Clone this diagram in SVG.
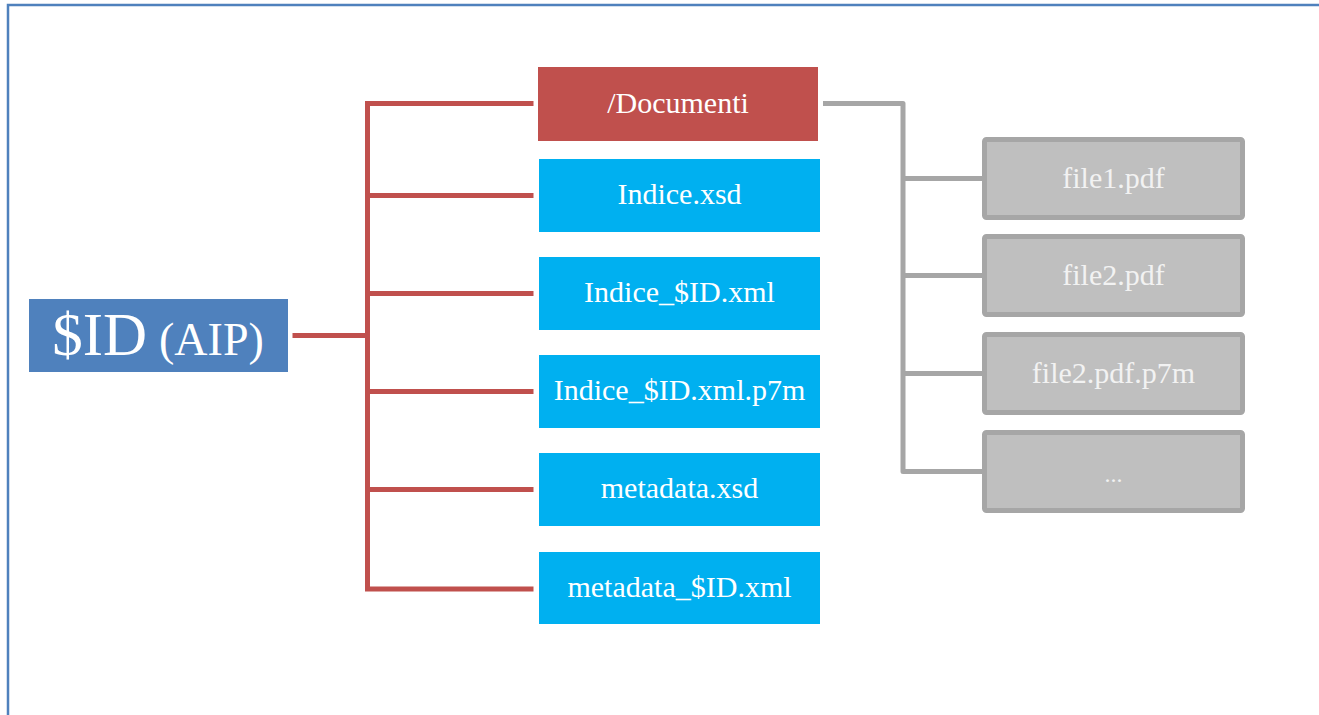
<svg xmlns="http://www.w3.org/2000/svg" width="1319" height="715" viewBox="0 0 1319 715">
  <style>
    text { font-family: "Liberation Serif", "DejaVu Serif", serif; fill: #ffffff; text-anchor: middle; }
    .lbl { font-size: 30px; }
    .file { font-size: 30px; fill: #f2f2f2; }
    .blue { fill: #00b0f0; }
    .red { fill: #c0504d; }
    .gray { fill: #bfbfbf; stroke: #a6a6a6; stroke-width: 5; }
    .wire-red { fill: none; stroke: #c0504d; stroke-width: 5; stroke-linecap: square; }
    .wire-gray { fill: none; stroke: #a6a6a6; stroke-width: 5; stroke-linejoin: round; }
  </style>

  <!-- page frame -->
  <rect x="0" y="0" width="1319" height="715" fill="#ffffff"/>
  <path d="M8 715 V5 H1319" fill="none" stroke="#4f81bd" stroke-width="2.5"/>

  <!-- connectors -->
  <g id="connectors">
    <path class="wire-red" d="M295 335.5 H367.5 M367.5 103.5 V589 M367.5 103.5 H531 M367.5 195.5 H531 M367.5 293.5 H531 M367.5 391.5 H531 M367.5 489.5 H531 M367.5 589 H531"/>
    <path class="wire-gray" d="M823 103.5 H903 V471.5 H984 M903 178.5 H984 M903 275.5 H984 M903 373.5 H984"/>
  </g>

  <!-- root package -->
  <g id="node-aip">
    <rect x="29" y="299" width="259" height="73" fill="#4f81bd"/>
    <text x="158" y="355"><tspan font-size="61">$ID</tspan><tspan font-size="46" dx="12">(AIP)</tspan></text>
  </g>

  <!-- package contents -->
  <g id="node-documenti">
    <rect class="red" x="538" y="67" width="280" height="74"/>
    <text class="lbl" x="678" y="113">/Documenti</text>
  </g>
  <g id="node-indice-xsd">
    <rect class="blue" x="539" y="159" width="281" height="73"/>
    <text class="lbl" x="679.5" y="204">Indice.xsd</text>
  </g>
  <g id="node-indice-xml">
    <rect class="blue" x="539" y="257" width="281" height="73"/>
    <text class="lbl" x="679.5" y="302">Indice_$ID.xml</text>
  </g>
  <g id="node-indice-p7m">
    <rect class="blue" x="539" y="355" width="281" height="73"/>
    <text class="lbl" x="679.5" y="400">Indice_$ID.xml.p7m</text>
  </g>
  <g id="node-metadata-xsd">
    <rect class="blue" x="539" y="453" width="281" height="73"/>
    <text class="lbl" x="679.5" y="498">metadata.xsd</text>
  </g>
  <g id="node-metadata-xml">
    <rect class="blue" x="539" y="552" width="281" height="72"/>
    <text class="lbl" x="679.5" y="597">metadata_$ID.xml</text>
  </g>

  <!-- documents folder -->
  <g id="node-file1">
    <rect class="gray" x="984.5" y="139.5" width="258" height="78" rx="2"/>
    <text class="file" x="1113.5" y="188">file1.pdf</text>
  </g>
  <g id="node-file2">
    <rect class="gray" x="984.5" y="236.5" width="258" height="78" rx="2"/>
    <text class="file" x="1113.5" y="285">file2.pdf</text>
  </g>
  <g id="node-file2-p7m">
    <rect class="gray" x="984.5" y="334.5" width="258" height="78" rx="2"/>
    <text class="file" x="1113.5" y="383">file2.pdf.p7m</text>
  </g>
  <g id="node-more">
    <rect class="gray" x="984.5" y="432.5" width="258" height="78" rx="2"/>
    <text class="file" x="1113.5" y="482" style="font-size:24px">...</text>
  </g>
</svg>
